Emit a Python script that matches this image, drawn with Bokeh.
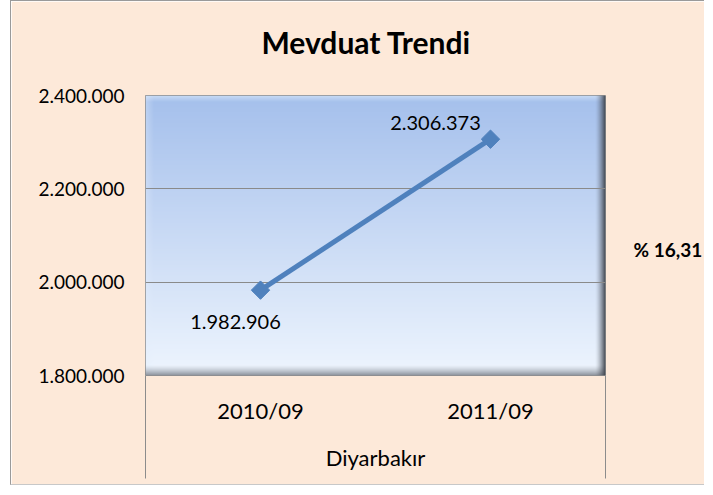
import numpy as np
from bokeh.plotting import figure
from bokeh.models import FixedTicker, ColumnDataSource, LinearAxis, Range1d
from bokeh.core.properties import value
from bokeh.embed import file_html
from bokeh.resources import INLINE

# ---- data ----
title_text = "Mevduat Trendi"
region = "Diyarbakır"
periods = ["2010/09", "2011/09"]
deposits = [1982906, 2306373]
y_ticks = [1800000, 2000000, 2200000, 2400000]
y_tick_labels = ["1.800.000", "2.000.000", "2.200.000", "2.400.000"]


def fmt(v):
    return f"{v:,}".replace(",", ".")


growth = (deposits[1] / deposits[0] - 1) * 100
growth_text = "% " + f"{growth:.2f}".replace(".", ",")

FONT = "Lato"
x_pos = [i + 0.5 for i in range(len(periods))]
Y0, Y1 = y_ticks[0], y_ticks[-1]

p = figure(width=694, height=485, x_range=(0, len(periods)), y_range=(Y0, Y1),
           output_backend="svg", toolbar_location=None,
           min_border_left=134, min_border_right=100,
           min_border_top=94, min_border_bottom=111)
p.styles = {"margin-left": "10px", "border-left": "1px solid #9A9A9A",
            "border-top": "1px solid #9A9A9A", "border-bottom": "1px solid #C8C8C8"}
p.background_fill_color = "#FDE9D9"
p.border_fill_color = "#FDE9D9"
p.outline_line_color = "#8C8C8C"

xa = p.below[0]
ya = p.left[0]


def bare_axis(ax):
    ax.axis_line_color = None
    ax.major_tick_line_color = None
    ax.minor_tick_line_color = None
    ax.major_tick_out = 0
    ax.major_tick_in = 0
    ax.minor_tick_out = 0
    ax.minor_tick_in = 0
    ax.major_label_text_font = FONT
    ax.major_label_text_color = "#000000"


# ---- title (as a label band above the plot area) ----
p.extra_x_ranges = {"band": Range1d(0, 1)}
ta = LinearAxis(x_range_name="band", ticker=FixedTicker(ticks=[0.48]),
                major_label_overrides={0.48: title_text})
bare_axis(ta)
ta.major_label_standoff = 36
ta.major_label_text_font_size = "30px"
ta.major_label_text_font_style = "bold"
p.add_layout(ta, "above")

# ---- plot-area gradient with bevel (decoration) ----
H, W = 280, 460
t = np.linspace(0, 1, H)[:, None]
top = np.array([0xA5, 0xC0, 0xEC], float)
bot = np.array([0xEE, 0xF5, 0xFE], float)
img = (top * (1 - t) + bot * t)[:, None, :].repeat(W, axis=1).reshape(H, W, 3).copy()
for i in range(6):
    a = (1 - i / 6) * 0.6
    img[i, :, :] = img[i, :, :] * (1 - a) + np.array([0xDC, 0xEA, 0xFB]) * a
for j in range(8):
    a = (1 - j / 8) * 0.35
    img[:, j, :] = img[:, j, :] * (1 - a) + np.array([0xE4, 0xEE, 0xFC]) * a
for i in range(10):
    a = ((i + 1) / 10) ** 1.3 * 0.85
    r = H - 10 + i
    img[r, :, :] = img[r, :, :] * (1 - a) + np.array([0x80, 0x86, 0x90]) * a
for j in range(10):
    a = ((j + 1) / 10) ** 1.5 * 0.9
    c = W - 10 + j
    img[:, c, :] = img[:, c, :] * (1 - a) + np.array([0x3C, 0x41, 0x4A]) * a
img = np.clip(img, 0, 255).astype(np.uint32)
rgba = (255 << 24) | (img[:, :, 2] << 16) | (img[:, :, 1] << 8) | img[:, :, 0]
rgba = np.flipud(rgba).astype(np.uint32)
p.image_rgba(image=[rgba], x=0, y=Y0, dw=len(periods), dh=Y1 - Y0, level="image")

# ---- grid ----
p.xgrid.visible = False
p.ygrid.ticker = FixedTicker(ticks=y_ticks)
p.ygrid.grid_line_color = "#8A8A8A"
p.ygrid.grid_line_width = 1

# ---- axes ----
ya.ticker = FixedTicker(ticks=y_ticks)
ya.major_label_overrides = {t_: l for t_, l in zip(y_ticks, y_tick_labels)}
bare_axis(ya)
ya.major_label_standoff = 21
ya.major_label_text_font_size = "19px"

SEP = 103
xa.ticker = FixedTicker(ticks=x_pos, minor_ticks=[0, len(periods)])
xa.major_label_overrides = {x: lab for x, lab in zip(x_pos, periods)}
bare_axis(xa)
xa.minor_tick_line_color = "#8C8C8C"
xa.minor_tick_out = SEP
xa.major_label_standoff = 21 - SEP
xa.major_label_text_font_size = "22px"
xa.axis_label = region
xa.axis_label_standoff = 17
xa.axis_label_text_font = FONT
xa.axis_label_text_font_size = "22px"
xa.axis_label_text_font_style = "normal"
xa.axis_label_text_color = "#000000"

# right-hand growth note
p.extra_y_ranges = {"note": Range1d(0, 1)}
ra = LinearAxis(y_range_name="note", ticker=FixedTicker(ticks=[0.45]),
                major_label_overrides={0.45: growth_text})
bare_axis(ra)
ra.major_label_standoff = 28
ra.major_label_text_font_size = "19px"
ra.major_label_text_font_style = "bold"
p.add_layout(ra, "right")

# ---- series ----
src = ColumnDataSource(dict(x=x_pos, y=deposits, lab=[fmt(v) for v in deposits],
                            dx=[-25, -55], dy=[32, -16]))
p.line("x", "y", source=src, line_color="#4F81BD", line_width=5)
p.scatter("x", "y", source=src, marker="square", angle=np.pi / 4, size=13,
          fill_color="#4F81BD", line_color="#4F81BD")
p.text("x", "y", text="lab", source=src, x_offset="dx", y_offset="dy",
       text_align="center", text_baseline="middle", text_font=value(FONT),
       text_font_size="20px", text_color="#000000")

open("out.html", "w").write(file_html(p, INLINE))
